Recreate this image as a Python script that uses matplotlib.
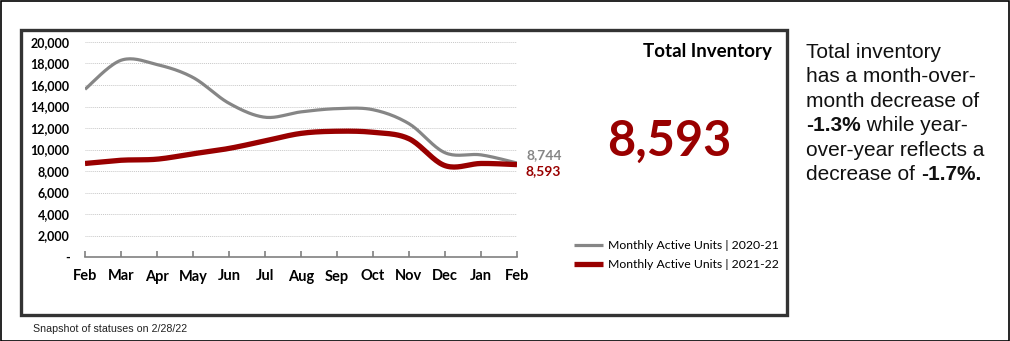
import numpy as np
import matplotlib
matplotlib.use("Agg")
import matplotlib.pyplot as plt
from matplotlib.patches import Rectangle

months = ["Feb", "Mar", "Apr", "May", "Jun", "Jul", "Aug", "Sep", "Oct", "Nov", "Dec", "Jan", "Feb"]
units_2020_21 = [15600, 18300, 17900, 16700, 14300, 13000, 13500, 13800, 13700, 12400, 9700, 9500, 8744]
units_2021_22 = [8700, 9000, 9100, 9600, 10100, 10800, 11500, 11700, 11600, 11000, 8500, 8700, 8593]
y_ticks = [0, 2000, 4000, 6000, 8000, 10000, 12000, 14000, 16000, 18000, 20000]

GRAY = "#868686"
RED = "#990000"
CHART_FONT = "Lato"
TEXT_FONT = "Liberation Sans"


def smooth(xs, ys, n=20):
    # catmull-rom curve through the points, roughly like excel's smoothed lines
    xs = np.asarray(xs, float)
    ys = np.asarray(ys, float)
    px = np.concatenate([[xs[0]], xs, [xs[-1]]])
    py = np.concatenate([[ys[0]], ys, [ys[-1]]])
    out_x, out_y = [], []
    t = np.linspace(0, 1, n, endpoint=False)
    for i in range(1, len(px) - 2):
        for p, out in ((px, out_x), (py, out_y)):
            p0, p1, p2, p3 = p[i - 1], p[i], p[i + 1], p[i + 2]
            out.extend(0.5 * ((2 * p1) + (-p0 + p2) * t
                              + (2 * p0 - 5 * p1 + 4 * p2 - p3) * t ** 2
                              + (-p0 + 3 * p1 - 3 * p2 + p3) * t ** 3))
    out_x.append(xs[-1])
    out_y.append(ys[-1])
    return np.array(out_x), np.array(out_y)


W, H = 1010, 341
fig = plt.figure(figsize=(W / 100, H / 100), dpi=100)

# outer frame and chart box
fig.patches.append(Rectangle((0.5 / W, 0.5 / H), 1 - 1.5 / W, 1 - 1.5 / H, transform=fig.transFigure,
                             fill=False, edgecolor="black", linewidth=1.2))
fig.patches.append(Rectangle((21 / W, 1 - 315 / H), 766 / W, 285 / H, transform=fig.transFigure,
                             fill=False, edgecolor="#333333", linewidth=2.4))

ax = fig.add_axes([85 / W, 1 - 257 / H, 432 / W, 215 / H])
x = np.arange(len(months))

sx, sy = smooth(x, units_2020_21)
ax.plot(sx, sy, color=GRAY, linewidth=2.3, solid_capstyle="butt",
        label="Monthly Active Units | 2020-21", zorder=3)
sx, sy = smooth(x, units_2021_22)
ax.plot(sx, sy, color=RED, linewidth=3.8, solid_capstyle="butt",
        label="Monthly Active Units | 2021-22", zorder=4)

ax.set_xlim(0, len(months) - 1)
ax.set_ylim(0, 20000)
ax.set_xticks(x)
ax.set_xticklabels(months)
ax.set_yticks(y_ticks)
ax.set_yticklabels(["-"] + [f"{v:,}" for v in y_ticks[1:]])
for lbl in ax.get_xticklabels():
    lbl.set_fontfamily(CHART_FONT)
    lbl.set_fontweight("bold")
    lbl.set_fontsize(10.5)
for lbl in ax.get_yticklabels():
    lbl.set_fontfamily(CHART_FONT)
    lbl.set_fontweight("bold")
    lbl.set_fontsize(9)

ax.grid(axis="y", color="#c8c8c8", linestyle=(0, (1, 1)), linewidth=0.7)
ax.set_axisbelow(True)
for side in ["top", "right", "left"]:
    ax.spines[side].set_visible(False)
ax.spines["bottom"].set_color("#808080")
ax.spines["bottom"].set_linewidth(1.2)
ax.tick_params(axis="x", direction="in", length=4, width=1.2, color="#808080", pad=9)
ax.tick_params(axis="y", length=0, pad=11)

# end labels
ax.annotate(f"{units_2020_21[-1]:,}", (x[-1], units_2020_21[-1]), xytext=(7, 6), textcoords="offset points",
            ha="left", va="center", color=GRAY, fontsize=10, fontweight="bold", family=CHART_FONT)
ax.annotate(f"{units_2021_22[-1]:,}", (x[-1], units_2021_22[-1]), xytext=(6, -4.5), textcoords="offset points",
            ha="left", va="center", color=RED, fontsize=10, fontweight="bold", family=CHART_FONT)

leg = fig.legend(loc="upper left", bbox_to_anchor=(563 / W, 1 - 229 / H), frameon=False,
                 prop={"family": CHART_FONT, "size": 8.8}, handlelength=2.4, handletextpad=0.35,
                 labelspacing=0.65)

fig.text(772 / W, 1 - 52 / H, "Total Inventory", ha="right", va="center",
         fontsize=13.5, fontweight="bold", family=CHART_FONT)
fig.text(669 / W, 1 - 141 / H, f"{units_2021_22[-1]:,}", ha="center", va="center",
         fontsize=35, fontweight="bold", color=RED, family=CHART_FONT)

# commentary on the right
lines = [
    [("Total inventory", "normal")],
    [("has a month-over-", "normal")],
    [("month decrease of", "normal")],
    [("-1.3%", "bold"), (" while year-", "normal")],
    [("over-year reflects a", "normal")],
    [("decrease of ", "normal"), ("-1.7%.", "bold")],
]
renderer = fig.canvas.get_renderer()
for i, parts in enumerate(lines):
    xpos = 806 / W
    ypos = 1 - (52 + i * 24.6) / H
    for txt, weight in parts:
        t = fig.text(xpos, ypos, txt, ha="left", va="center", fontsize=15,
                     fontweight=weight, family=TEXT_FONT, color="#111111")
        bb = t.get_window_extent(renderer=renderer)
        xpos += bb.width / W

fig.text(33 / W, 1 - 329 / H, "Snapshot of statuses on 2/28/22", ha="left", va="center",
         fontsize=7.7, family=TEXT_FONT, color="#222222")

fig.savefig("out.png", dpi=100)
